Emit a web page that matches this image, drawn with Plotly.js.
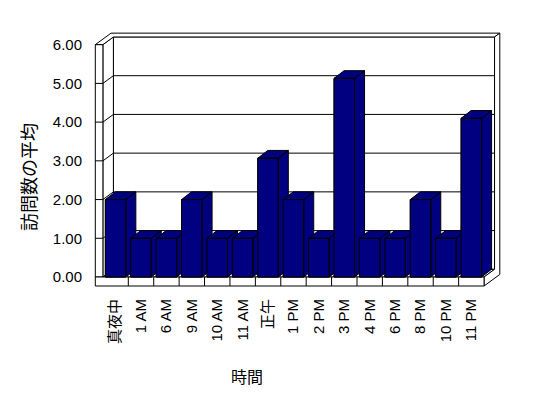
<!DOCTYPE html>
<html>
<head>
<meta charset="utf-8">
<script src="https://cdn.plot.ly/plotly-3.0.1.min.js"></script>
<style>html,body{margin:0;padding:0;background:#fff;}#chart{width:548px;height:398px;}</style>
</head>
<body>
<div id="chart"></div>
<script>
// ---- data ----
const categories = ["真夜中","1 AM","6 AM","9 AM","10 AM","11 AM","正午","1 PM","2 PM","3 PM","4 PM","6 PM","8 PM","10 PM","11 PM"];
const avgVisits = [2, 1, 1, 2, 1, 1, 3.07, 2, 1, 5.13, 1, 1, 2, 1, 4.1];
const yTickValues = [0, 1, 2, 3, 4, 5, 6];
const yTickLabels = ["0.00","1.00","2.00","3.00","4.00","5.00","6.00"];
const xTitle = "時間";
const yTitle = "訪問数の平均";

// ---- geometry (pixels -> data units) ----
const W = 548, H = 398;
const plotL = 90, plotR = 505, plotT = 28, plotB = 290;
const pxCat = 25.41, pxUnit = 38.72;       // pixels per category / per value unit
const frontLeftPx = 102.9, zeroPx = 277;  // front plane: x=-0.5 at 102.9px, y=0 at 277px
const xMin = -0.5 - (frontLeftPx - plotL) / pxCat;
const xMax = -0.5 + (plotR - frontLeftPx) / pxCat;
const yMin = -(plotB - zeroPx) / pxUnit;
const yMax = (zeroPx - plotT) / pxUnit;

const ddx = 10.5 / pxCat, ddy = 7.7 / pxUnit;   // wall depth offset
const bdx = 10 / pxCat, bdy = 7.7 / pxUnit;     // bar depth offset
const hw = 0.403;                                // half bar front width
const wallT = 7.6 / pxCat;                       // left wall thickness
const floorT = 9 / pxUnit;                       // floor thickness
const n = categories.length;
const xa = -0.5, xb = n - 0.5;
const ytop = yTickValues[yTickValues.length - 1];

function P(x, d, y) { return [x + d * ddx, y + d * ddy]; }
function path(pts) { return "M" + pts.map(p => p[0] + "," + p[1]).join(" L") + " Z"; }
function line(a, b) { return {type:"line", xref:"x", yref:"y", x0:a[0], y0:a[1], x1:b[0], y1:b[1], line:{color:"#000", width:1}, layer:"below"}; }
function poly(pts) { return {type:"path", xref:"x", yref:"y", path:path(pts), fillcolor:"#fff", line:{color:"#000", width:1}, layer:"below"}; }

const shapes = [];
// back wall face
shapes.push(poly([P(xa,1,0), P(xb,1,0), P(xb,1,ytop), P(xa,1,ytop)]));
yTickValues.slice(1, -1).forEach(v => shapes.push(line(P(xa,1,v), P(xb,1,v))));
// left wall inner face
shapes.push(poly([P(xa,0,0), P(xa,1,0), P(xa,1,ytop), P(xa,0,ytop)]));
yTickValues.slice(1, -1).forEach(v => shapes.push(line(P(xa,0,v), P(xa,1,v))));
// floor top
shapes.push(poly([P(xa,0,0), P(xb,0,0), P(xb,1,0), P(xa,1,0)]));
// top of walls (L shape)
shapes.push(poly([P(xa-wallT,0,ytop), P(xa,0,ytop), P(xa,1,ytop), P(xb,1,ytop), P(xb,1.5,ytop), P(xa-wallT,1.5,ytop)]));
// right side of back wall + floor
shapes.push(poly([P(xb,0,0), P(xb,0,-floorT), P(xb,1.5,-floorT), P(xb,1.5,ytop), P(xb,1,ytop), P(xb,1,0)]));
// left wall front face
shapes.push(poly([P(xa-wallT,0,0), P(xa,0,0), P(xa,0,ytop), P(xa-wallT,0,ytop)]));
yTickValues.slice(1, -1).forEach(v => shapes.push(line(P(xa-wallT,0,v), P(xa,0,v))));
// floor front face
shapes.push(poly([P(xa-wallT,0,-floorT), P(xb,0,-floorT), P(xb,0,0), P(xa-wallT,0,0)]));
for (let i = 0; i < n - 1; i++) shapes.push(line(P(i+0.5,0,-floorT), P(i+0.5,0,0)));

const xIdx = categories.map((c, i) => i);
const traces = [{
  type: "bar", x: xIdx, y: avgVisits, width: 2 * hw,
  marker: {color: "#000080", line: {color: "#000", width: 1}},
  text: categories, hovertemplate: "%{text}: %{y:.2f}<extra></extra>"
}];
// 3D faces of each bar (front, top, side), drawn in order so later bars overlap earlier ones
avgVisits.forEach((v, i) => {
  const xl = i - hw, xr = i + hw;
  const xs = [xl, xr, xr, xl, xl, null,
              xl, xr, xr + bdx, xl + bdx, xl, null,
              xr, xr + bdx, xr + bdx, xr, xr];
  const ys = [0, 0, v, v, 0, null,
              v, v, v + bdy, v + bdy, v, null,
              0, bdy, v + bdy, v, 0];
  traces.push({type:"scatter", mode:"lines", x:xs, y:ys, fill:"toself", fillcolor:"#000080",
               line:{color:"#000", width:1}, hoverinfo:"skip", showlegend:false});
});

const tickFont = {family: "Liberation Sans, Arial, 'Noto Sans CJK JP', sans-serif", size: 15, color: "#000"};
const xTickFont = {family: "Liberation Sans, Arial, 'Noto Sans CJK JP', sans-serif", size: 15, color: "#000"};
const titleFont = {family: "'Noto Sans CJK JP', 'Liberation Sans', sans-serif", size: 16, color: "#000"};
const yTitleFont = {family: "'Noto Sans CJK JP', 'Liberation Sans', sans-serif", size: 18, color: "#000"};

const layout = {
  width: W, height: H,
  margin: {l: plotL, r: W - plotR, t: plotT, b: H - plotB, pad: 0},
  paper_bgcolor: "#fff", plot_bgcolor: "rgba(0,0,0,0)",
  showlegend: false, bargap: 0,
  xaxis: {range: [xMin, xMax], tickmode: "array", tickvals: xIdx, ticktext: categories,
          tickangle: -90, showgrid: false, zeroline: false, showline: false, ticks: "",
          tickfont: xTickFont, ticklabelstandoff: 5, fixedrange: true},
  yaxis: {range: [yMin, yMax], tickmode: "array", tickvals: yTickValues, ticktext: yTickLabels,
          showgrid: false, zeroline: false, showline: false, ticks: "",
          tickfont: tickFont, ticklabelstandoff: 7, fixedrange: true},
  shapes: shapes,
  annotations: [
    {text: xTitle, xref: "paper", yref: "paper", x: (247 - plotL) / (plotR - plotL), y: (plotB - 376) / (plotB - plotT),
     showarrow: false, xanchor: "center", yanchor: "middle", font: titleFont},
    {text: yTitle, xref: "paper", yref: "paper", x: (28 - plotL) / (plotR - plotL), y: (plotB - 177) / (plotB - plotT),
     showarrow: false, xanchor: "center", yanchor: "middle", textangle: -90, font: yTitleFont}
  ]
};

Plotly.newPlot("chart", traces, layout, {displayModeBar: false, staticPlot: true});
</script>
</body>
</html>
